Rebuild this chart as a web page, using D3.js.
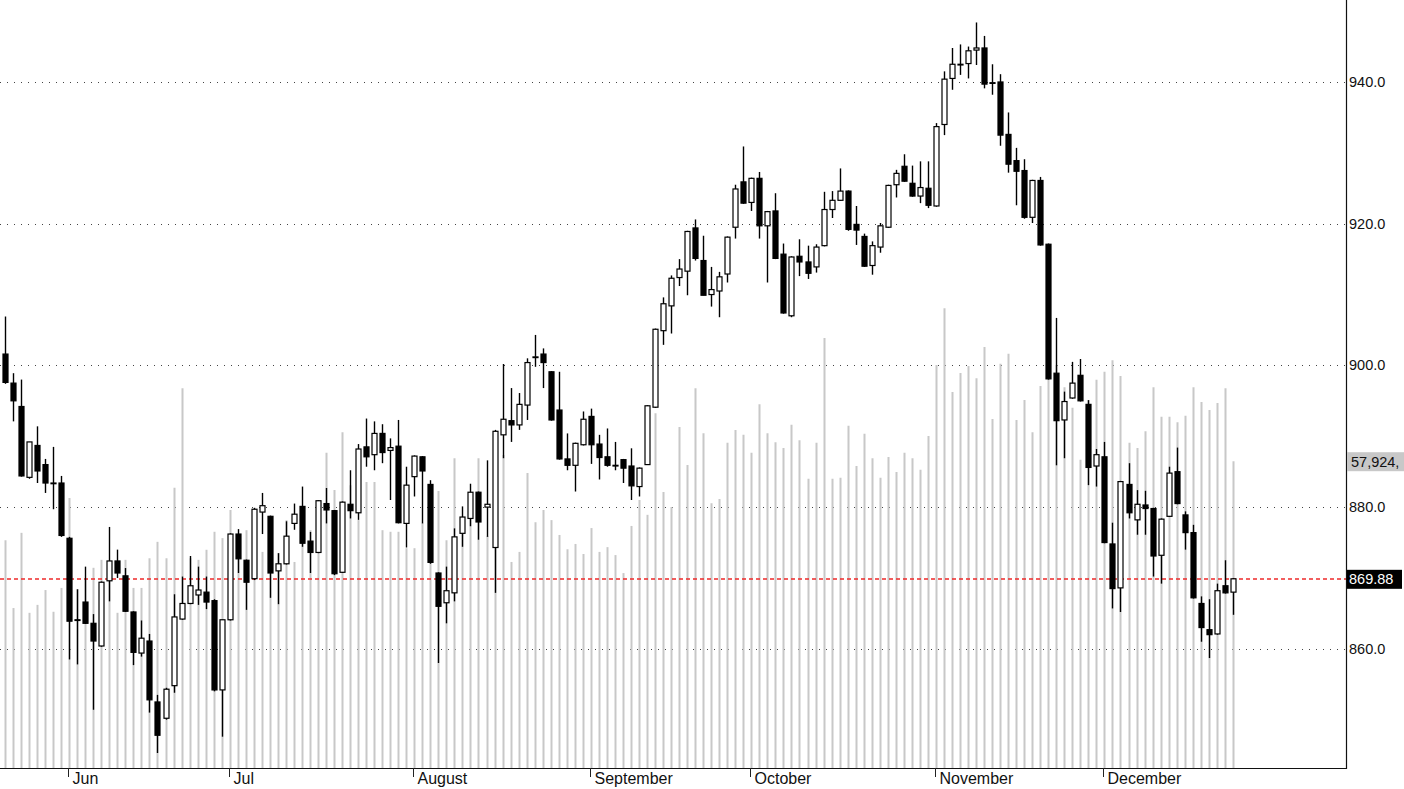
<!DOCTYPE html>
<html><head><meta charset="utf-8">
<script src="https://cdn.jsdelivr.net/npm/d3@7"></script>
<style>
html,body{margin:0;padding:0;background:#fff;}
svg{display:block;font-family:"Liberation Sans",Arial,sans-serif;}
</style></head>
<body><svg id="c" width="1404" height="789"></svg>
<script>
// ---- DATA ----
const opens = [901.6,897.5,894.2,884.2,888.7,886.0,883.4,883.4,875.6,864.1,866.6,863.6,860.4,869.6,872.4,870.3,865.2,859.4,861.1,852.5,
850.2,854.8,864.2,866.4,867.6,868.0,866.8,854.2,864.1,876.2,872.5,869.9,879.3,878.7,871.0,872.0,877.7,880.1,875.2,873.6,
880.5,879.5,870.8,880.4,879.2,888.5,887.4,890.4,888.0,888.6,877.7,884.3,887.1,883.2,870.7,866.5,867.9,876.3,878.4,882.1,
880.0,874.3,890.2,892.2,891.6,894.4,901.1,901.6,899.1,893.7,886.8,885.9,888.8,892.8,888.9,887.1,885.8,886.7,885.8,882.9,
886.0,894.1,904.9,908.4,912.4,913.3,919.4,914.8,910.0,910.5,912.9,919.5,925.9,923.0,926.4,919.7,921.8,915.7,907.0,915.4,
914.6,913.9,916.9,922.0,923.3,924.6,919.9,918.2,914.1,916.7,919.5,925.5,928.1,925.7,923.9,925.0,922.5,934.0,940.5,942.4,
942.6,944.5,944.8,939.8,940.0,932.6,928.9,927.5,920.9,926.1,917.1,898.9,892.3,895.4,898.6,894.5,885.8,887.1,874.8,868.6,
883.2,878.2,880.3,879.8,873.2,878.7,885.0,878.9,876.4,866.4,862.7,862.1,868.9,868.0];
const highs = [906.9,898.9,898.0,889.2,891.4,886.8,888.5,884.4,875.8,868.4,871.6,864.9,869.5,877.2,874.0,871.4,865.3,864.0,862.1,853.5,
854.5,867.7,870.2,873.1,871.6,870.2,867.0,864.1,876.3,876.9,872.6,879.9,882.0,878.8,873.5,878.0,880.5,882.9,876.5,881.0,
882.7,879.6,880.8,885.2,888.9,892.5,892.1,891.7,889.7,892.3,885.7,887.3,887.2,883.8,870.8,871.6,877.0,880.1,883.3,882.2,
886.6,890.9,900.2,896.8,896.1,901.0,904.3,902.4,899.2,899.1,890.4,889.1,893.5,893.9,890.2,891.1,889.2,886.8,888.3,885.6,
894.4,905.2,909.6,912.7,915.0,919.0,920.6,918.3,913.9,913.2,918.2,925.5,930.9,926.5,927.3,921.8,924.3,917.2,915.4,917.8,
916.9,917.1,924.5,924.6,927.8,924.7,922.5,918.6,917.5,920.1,925.5,927.6,929.8,928.2,928.8,928.8,934.2,941.5,944.8,945.3,
945.0,948.4,946.5,942.5,941.1,935.7,930.7,929.1,926.2,926.6,917.2,906.7,896.3,900.5,900.9,895.1,888.2,889.2,877.8,883.7,
886.2,882.4,882.3,879.9,878.4,885.7,888.4,879.4,877.5,867.4,867.0,869.2,872.5,870.0];
const lows = [897.4,892.1,884.3,884.0,883.4,882.0,879.7,875.8,858.5,857.8,863.5,851.4,860.3,866.7,870.0,865.2,857.7,858.9,851.0,845.3,
850.0,853.8,864.1,866.3,866.2,865.6,854.0,847.6,864.0,870.7,865.5,869.7,876.2,867.2,866.3,871.9,876.8,874.4,870.7,873.5,
877.7,870.4,870.7,878.4,878.2,885.7,885.2,886.2,881.0,877.7,874.3,881.5,877.7,872.0,858.0,863.6,866.7,874.4,877.3,875.4,
875.8,867.9,886.9,889.2,890.9,892.3,899.8,896.8,892.2,886.7,885.2,882.2,888.7,886.1,883.9,885.7,885.2,883.4,881.0,881.5,
886.0,894.0,902.9,904.5,911.2,909.9,914.8,909.9,908.3,906.8,911.7,917.9,922.8,921.8,917.9,911.7,915.0,907.3,906.8,912.6,
912.2,913.1,916.8,920.8,923.2,919.0,917.0,913.9,912.8,915.9,919.4,923.7,925.9,923.8,922.9,922.2,922.4,932.5,938.9,941.0,
940.5,942.4,939.1,938.2,931.0,927.2,922.6,920.7,920.1,916.9,898.0,885.9,886.9,895.3,894.9,883.1,882.9,874.9,865.7,865.2,
878.4,876.1,876.1,870.2,869.2,878.6,880.4,874.0,867.1,861.0,858.7,862.0,867.8,864.8];
const closes = [897.6,895.0,884.4,889.2,885.1,883.4,883.3,876.0,863.9,864.0,863.6,861.1,869.4,872.4,870.7,865.3,859.5,861.5,852.8,847.8,
854.3,864.5,866.4,868.9,868.3,866.6,854.2,864.1,876.2,872.7,869.4,879.7,880.2,870.7,872.0,875.9,879.0,874.9,873.6,880.9,
879.6,870.6,880.7,879.5,888.2,887.1,890.4,887.7,888.4,877.8,883.1,887.2,885.1,872.2,866.0,868.2,875.8,878.6,882.1,877.9,
880.4,890.7,892.4,891.6,894.5,900.4,901.2,900.4,892.3,886.8,885.9,889.0,892.4,888.8,887.0,885.9,885.9,885.5,883.0,885.5,
894.3,905.1,908.7,912.3,913.6,918.9,915.1,909.9,910.7,912.5,918.1,924.9,922.9,926.4,919.7,921.7,915.1,907.4,915.3,914.6,
913.0,916.7,922.0,923.3,924.6,919.2,919.1,914.0,916.9,919.7,925.4,927.1,926.0,923.9,925.1,922.6,933.7,940.4,942.5,942.5,
944.4,944.8,939.7,939.9,932.5,928.4,927.4,920.9,926.1,917.0,898.1,892.2,894.9,897.5,895.0,885.6,887.4,875.0,868.5,883.6,
879.2,880.4,879.8,873.1,878.3,884.8,880.5,876.4,867.2,863.0,862.0,868.2,867.9,869.88];
const volumes = [43000,30200,44400,29300,30800,33600,29500,34000,51000,33800,35500,37800,39300,36400,29300,39300,34000,34000,39600,42700,
39600,52900,71700,39600,39300,41200,44600,43400,48700,39300,44900,43000,40800,46800,40600,46800,38900,47800,44900,49300,
59500,52500,63400,53400,46800,54000,54000,44900,44600,44600,41500,41500,46300,46800,52300,43000,58500,46800,48700,58500,
43800,56300,59100,38900,40800,55700,46400,48700,46800,44000,41300,42300,40400,45300,40800,41700,40200,36800,45700,50600,
47800,67000,52100,49300,64400,57200,71700,63200,50000,50800,61400,63800,62900,59500,68700,63200,61500,60400,64800,61900,
54600,61400,81200,54600,54800,64600,57000,63100,58500,54800,58700,55900,59500,58500,56300,62700,76100,86800,71000,74600,
75900,73600,79500,65900,76300,78200,65700,69500,63400,72100,73800,76100,71900,68000,58200,69500,73300,74800,77000,74000,
61400,60400,63600,71900,66300,66300,65300,66500,71900,69100,67600,68900,71700,57924];
const priceTicks = [860, 880, 900, 920, 940];
const monthLabels = ["Jun","Jul","August","September","October","November","December"];
const monthStart = [8, 28, 51, 73, 93, 116, 137];
const lastClose = 869.88;
const lastVolumeLabel = "57,924,";

// ---- LAYOUT ----
const W = 1404, H = 789, plotR = 1346, plotB = 768;
const svg = d3.select("#c");
const x = d3.scaleLinear().domain([-0.623, 167.1]).range([0, plotR]);
const y = d3.scaleLinear().domain([843.18, 951.57]).range([plotB, 0]);
const v = d3.scaleLinear().domain([0, 145000]).range([plotB, 0]);
const px = i => Math.round(x(i)) + 0.5;

// grid (dotted)
svg.append("g").selectAll("line").data(priceTicks).join("line")
  .attr("x1", 0).attr("x2", plotR)
  .attr("y1", d => Math.round(y(d)) + 0.5).attr("y2", d => Math.round(y(d)) + 0.5)
  .attr("stroke", "#444").attr("stroke-width", 1).attr("stroke-dasharray", "1,6");

// volume bars
svg.append("g").selectAll("line").data(volumes).join("line")
  .attr("x1", (d,i) => Math.round(x(i)) + 0.5).attr("x2", (d,i) => Math.round(x(i)) + 0.5)
  .attr("y1", plotB).attr("y2", d => v(d))
  .attr("stroke", "#c8c8c8").attr("stroke-width", 2);

// last close line
svg.append("line").attr("x1", 0).attr("x2", plotR)
  .attr("y1", Math.round(y(lastClose))).attr("y2", Math.round(y(lastClose)))
  .attr("stroke", "#ee2a2a").attr("stroke-width", 1.6).attr("stroke-dasharray", "4,3");

// candles
const data = opens.map((o,i) => ({i, o, h: highs[i], l: lows[i], c: closes[i]}));
const cg = svg.append("g");
cg.selectAll("line.w").data(data).join("line").attr("class","w")
  .attr("x1", d => px(d.i)).attr("x2", d => px(d.i))
  .attr("y1", d => y(d.h)).attr("y2", d => y(d.l))
  .attr("stroke", "#000").attr("stroke-width", 1.4);
cg.selectAll("rect").data(data).join("rect")
  .attr("x", d => px(d.i) - 2.5).attr("width", 5)
  .attr("y", d => y(Math.max(d.o, d.c)))
  .attr("height", d => Math.max(0.6, Math.abs(y(d.o) - y(d.c))))
  .attr("fill", d => d.c < d.o ? "#000" : "#fff")
  .attr("stroke", "#000").attr("stroke-width", 1.2);

// axes frame
svg.append("line").attr("x1", plotR + 0.5).attr("x2", plotR + 0.5).attr("y1", 0).attr("y2", plotB + 1)
  .attr("stroke", "#111").attr("stroke-width", 1.2);
svg.append("line").attr("x1", 0).attr("x2", plotR + 1).attr("y1", plotB + 0.5).attr("y2", plotB + 0.5)
  .attr("stroke", "#111").attr("stroke-width", 1.2);

// price labels
svg.append("g").selectAll("text").data(priceTicks).join("text")
  .attr("x", plotR + 3).attr("y", d => y(d) + 5)
  .attr("font-size", 14.5).attr("fill", "#111")
  .text(d => d3.format(".1f")(d));

// volume value box
const vy = v(volumes[volumes.length - 1]);
svg.append("rect").attr("x", plotR + 1).attr("y", vy - 9).attr("width", W - plotR).attr("height", 19).attr("fill", "#c8c8c8");
svg.append("text").attr("x", plotR + 5).attr("y", vy + 5.5).attr("font-size", 14.5).attr("fill", "#111").text(lastVolumeLabel);

// last close box
const cy = y(lastClose);
svg.append("rect").attr("x", plotR + 1).attr("y", cy - 9).attr("width", 55).attr("height", 19).attr("fill", "#000");
svg.append("text").attr("x", plotR + 3).attr("y", cy + 5.5).attr("font-size", 14.5).attr("fill", "#fff").text(d3.format(".2f")(lastClose));

// month ticks
const mg = svg.append("g").selectAll("g").data(monthStart).join("g");
mg.append("line").attr("x1", d => px(d) - 1).attr("x2", d => px(d) - 1)
  .attr("y1", plotB).attr("y2", plotB + 9).attr("stroke", "#222").attr("stroke-width", 1);
mg.append("text").attr("x", d => px(d) + 3).attr("y", plotB + 15.5)
  .attr("font-size", 16).attr("fill", "#111").text((d,i) => monthLabels[i]);
</script></body></html>
